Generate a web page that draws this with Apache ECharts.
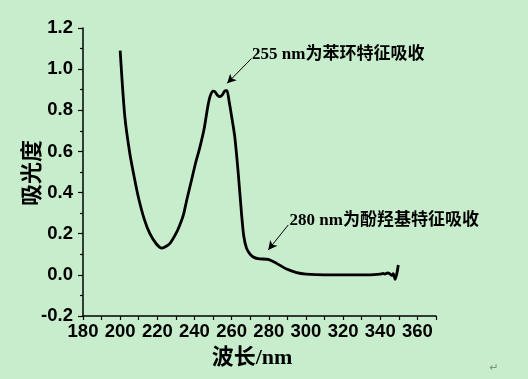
<!DOCTYPE html>
<html>
<head>
<meta charset="utf-8">
<script src="https://cdn.jsdelivr.net/npm/echarts@6/dist/echarts.min.js"></script>
<style>
html,body{margin:0;padding:0;background:#C7EDCC;}
#c{width:528px;height:379px;}
</style>
</head>
<body>
<div id="c"></div>
<script>
// Wavelength (nm)
var wavelengths = [200, 202.5, 205.2, 207.9, 210, 213, 216, 219.5, 222.5, 225, 227, 230, 232, 234, 236, 238.4, 240.5, 242.9, 245.2, 247.2, 248.5, 250, 251, 252.5, 253.7, 255, 256.5, 257.5, 258.7, 260, 261.7, 263.5, 265.3, 266.5, 268, 270, 272, 275, 279.7, 284, 289.6, 295, 300, 310, 320, 330, 338, 340, 341.5, 342.5, 344, 345, 346.3, 347, 348, 349, 349.7];
// Absorbance
var absorbance = [1.09, 0.77, 0.59, 0.46, 0.37, 0.27, 0.20, 0.15, 0.13, 0.14, 0.155, 0.20, 0.24, 0.29, 0.37, 0.46, 0.54, 0.62, 0.71, 0.82, 0.87, 0.893, 0.89, 0.872, 0.866, 0.875, 0.895, 0.895, 0.84, 0.77, 0.67, 0.50, 0.30, 0.19, 0.13, 0.10, 0.085, 0.078, 0.075, 0.057, 0.028, 0.011, 0.004, 0.0, 0.0, 0.0, 0.002, 0.003, 0.007, 0.004, 0.009, 0.006, -0.003, 0.006, -0.022, 0.01, 0.048];

var xTickLabels = ['180','200','220','240','260','280','300','320','340','360'];
var yTickLabels = ['-0.2','0.0','0.2','0.4','0.6','0.8','1.0','1.2'];

var xTitle = '波长/nm';
var yTitle = '吸光度';

// Annotations in data units
var annoText = ['255 nm为苯环特征吸收', '280 nm为酚羟基特征吸收'];
var annoTextPos = [[271, 1.073], [291.2, 0.265]];
var annoArrowFrom = [[270.7, 1.052], [290.5, 0.243]];
var annoArrowTo = [[257.6, 0.931], [279.7, 0.121]];

var data = wavelengths.map(function(w, i){ return [w, absorbance[i]]; });

var chart = echarts.init(document.getElementById('c'), null, {renderer:'canvas'});
var axisFont = {fontFamily:'"Liberation Sans", Arial, sans-serif', fontWeight:'bold', fontSize:18.5, color:'#000'};

var option = {
  backgroundColor:'#C7EDCC',
  animation:false,
  grid:{left:83, top:28, width:353, height:288, containLabel:false},
  xAxis:{
    type:'value', min:180, max:370, interval:20,
    axisLine:{show:true, onZero:false, lineStyle:{color:'#000', width:1.5}},
    axisTick:{show:true, inside:false, length:4, lineStyle:{color:'#000', width:1.2}},
    minorTick:{show:true, splitNumber:2, length:4, lineStyle:{color:'#000', width:1.2}},
    splitLine:{show:false},
    axisLabel:Object.assign({margin:6, showMaxLabel:false, formatter:function(v){ var i = xTickLabels.indexOf(String(v)); return i>=0 ? xTickLabels[i] : ''; }}, axisFont)
  },
  yAxis:{
    type:'value', min:-0.2, max:1.2, interval:0.2,
    axisLine:{show:true, onZero:false, lineStyle:{color:'#000', width:1.5}},
    axisTick:{show:true, inside:false, length:5, lineStyle:{color:'#000', width:1.2}},
    minorTick:{show:true, splitNumber:2, length:3, lineStyle:{color:'#000', width:1.2}},
    splitLine:{show:false},
    axisLabel:Object.assign({margin:10, formatter:function(v){ var s = v.toFixed(1); if (s==='-0.0') s='0.0'; return yTickLabels.indexOf(s)>=0 ? s : ''; }}, axisFont)
  },
  series:[{
    type:'line', data:data, showSymbol:false, symbol:'none', smooth:0.25,
    lineStyle:{color:'#000', width:2.8},
    markLine:{
      silent:true, symbol:['none','arrow'], symbolSize:[7,9],
      lineStyle:{color:'#000', width:1, type:'solid'},
      label:{show:false},
      data: annoArrowFrom.map(function(f, i){ return [{coord:f}, {coord:annoArrowTo[i]}]; })
    }
  }]
};
chart.setOption(option);

function placeGraphics(){
  var els = [];
  annoText.forEach(function(t, i){
    var p = chart.convertToPixel({gridIndex:0}, annoTextPos[i]);
    els.push({type:'text', x:p[0], y:p[1], style:{text:t, fill:'#000', font:'bold 17px "Liberation Serif", "Noto Sans CJK SC", serif', textAlign:'left', textVerticalAlign:'middle'}});
  });
  els.push({type:'text', x:252, y:358, style:{text:xTitle, fill:'#000', font:'bold 22px "Liberation Serif", "Noto Sans CJK SC", serif', textAlign:'center', textVerticalAlign:'middle'}});
  els.push({type:'text', x:31, y:173, rotation:Math.PI/2, style:{text:yTitle, fill:'#000', font:'bold 22px "Noto Sans CJK SC", serif', textAlign:'center', textVerticalAlign:'middle'}});
  els.push({type:'text', x:494, y:368, style:{text:'↵', fill:'#7f8f80', font:'11px "DejaVu Sans", sans-serif', textAlign:'center', textVerticalAlign:'middle'}});
  chart.setOption({graphic:{elements:els}});
}
placeGraphics();
</script>
</body>
</html>
